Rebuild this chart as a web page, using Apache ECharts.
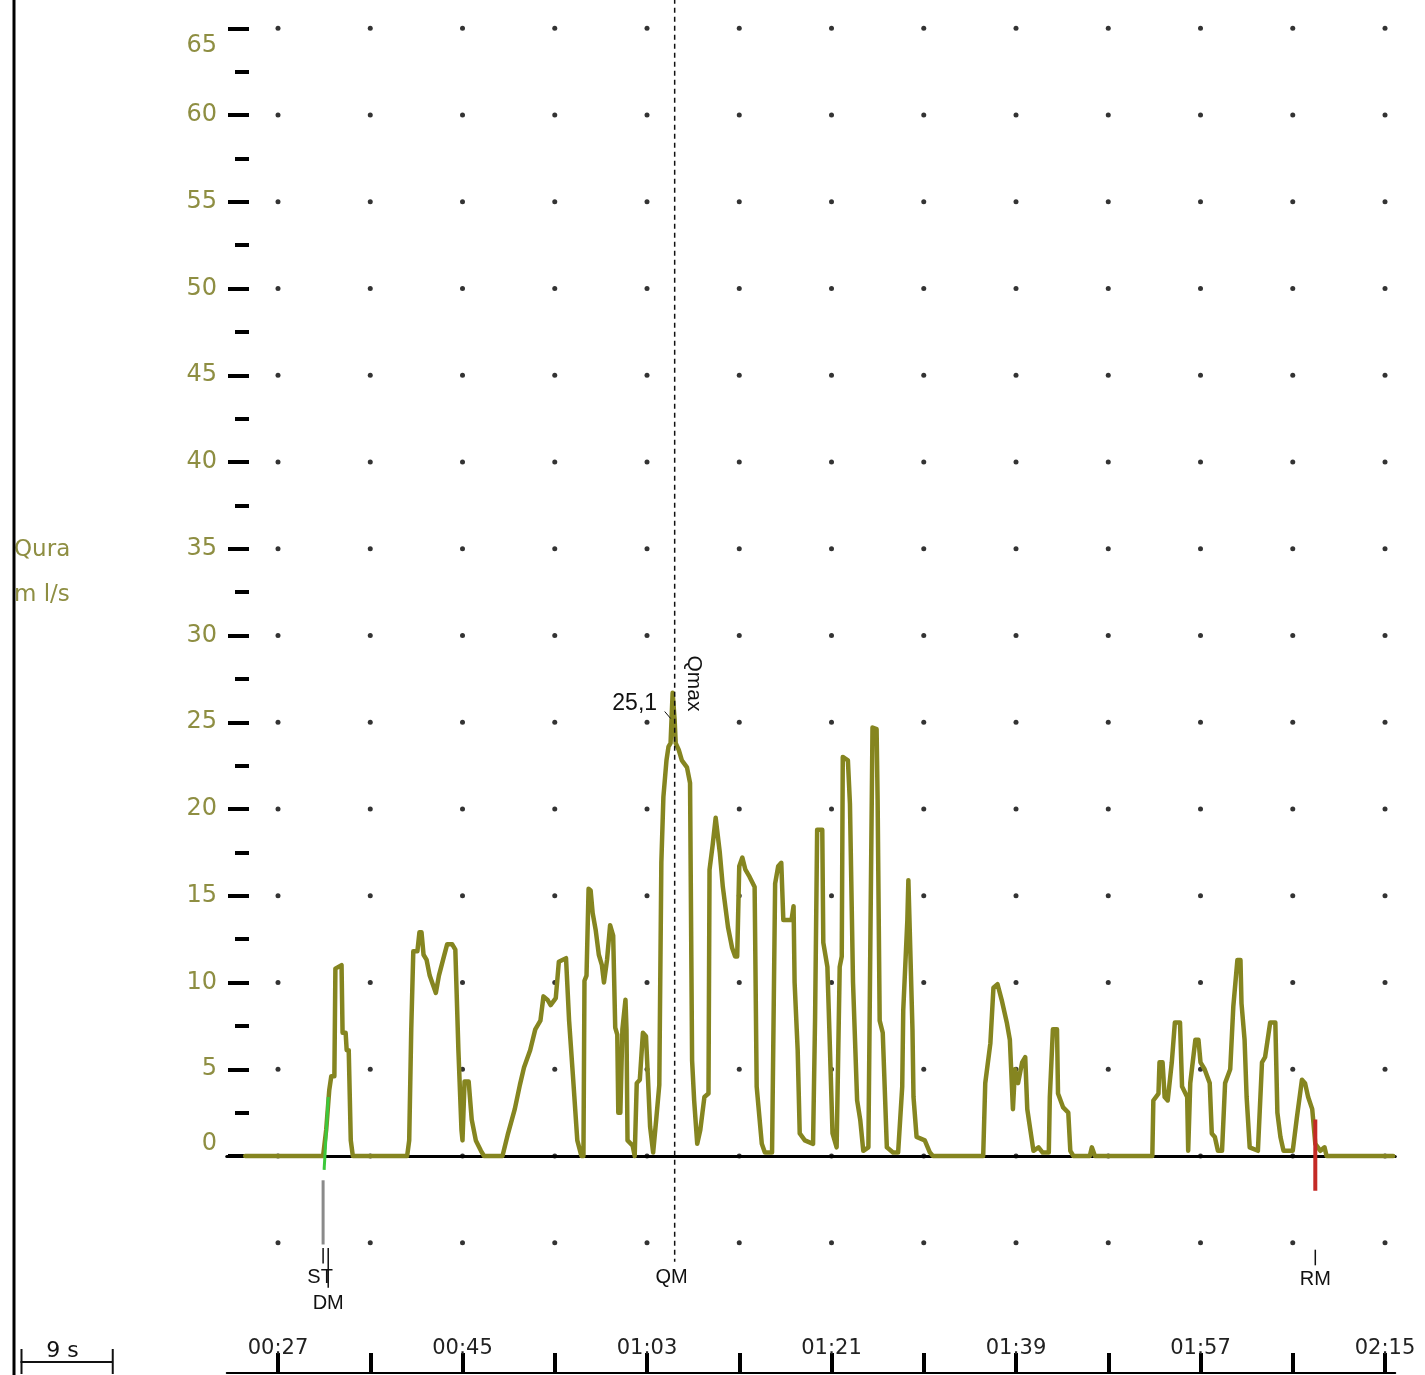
<!DOCTYPE html>
<html>
<head>
<meta charset="utf-8">
<title>Qura</title>
<script src="https://cdn.jsdelivr.net/npm/echarts@6.0.0/dist/echarts.min.js"></script>
<style>
  html, body { margin: 0; padding: 0; background: #ffffff; }
  #chart { width: 1425px; height: 1375px; }
</style>
</head>
<body>
<div id="chart"></div>
<script>
// Flow curve: time (s) and flow rate (ml/s)
const timeSec = [
  23.8, 31.4, 31.7, 32.0, 32.2, 32.5, 32.6, 33.2, 33.3, 33.6, 33.7, 33.9, 34.1, 34.3,
  39.6, 39.8, 40.0, 40.2, 40.6, 40.8, 41.0, 41.2, 41.5, 41.8, 42.1, 42.4, 42.7, 43.1,
  43.5, 44.0, 44.3, 44.6, 44.9, 45.0, 45.2, 45.6, 45.9, 46.3, 46.8, 47.1,
  48.9, 49.4, 50.1, 50.6, 51.0, 51.6, 52.1, 52.6, 52.9, 53.3, 53.6, 54.1, 54.4, 55.1,
  55.4, 55.8, 56.2, 56.6,
  56.8, 56.9, 57.1, 57.3, 57.5, 57.7, 58.0, 58.3, 58.6, 58.8, 59.1, 59.4, 59.7, 59.9,
  60.1, 60.2, 60.4, 60.6, 60.9, 61.0, 61.1, 61.6, 61.8, 62.0, 62.3, 62.6, 62.9, 63.1,
  63.3, 63.6, 63.9, 64.2, 64.4, 64.6, 64.9, 65.1, 65.3, 65.5, 65.7, 65.8, 66.1, 66.4,
  66.9, 67.2, 67.4, 67.6, 67.9, 68.2, 68.6, 69.0, 69.1, 69.4, 69.7, 70.1, 70.4, 70.9,
  71.3, 71.6, 71.8, 72.0, 72.3, 72.6, 73.0, 73.5, 73.7, 74.2, 74.5, 75.2, 75.5, 75.8,
  76.1, 76.3, 77.1, 77.3, 77.4, 77.7, 77.9, 78.4, 79.2, 79.4, 79.6, 80.1, 80.2, 80.6,
  80.8, 81.1, 81.5, 81.8, 82.0, 82.1, 82.6, 82.8, 83.1, 83.5, 83.8, 84.1, 84.6, 84.8,
  85.0, 85.4, 85.5, 85.7, 86.0, 86.4, 87.0, 87.5, 87.9, 88.0, 88.4, 88.5, 88.9, 89.0,
  89.3, 90.1, 90.6, 90.9,
  95.8, 96.0, 96.5, 96.8, 97.2, 97.6, 98.1, 98.4, 98.7, 98.9, 99.2, 99.6, 99.9, 100.1,
  100.4, 100.7, 101.2, 101.6, 102.2, 102.3, 102.6, 103.0, 103.1, 103.6, 104.1, 104.3,
  104.6, 106.2, 106.4, 106.7,
  112.3, 112.4, 112.9, 113.0, 113.3, 113.5, 113.8, 114.2, 114.5, 115.0, 115.2, 115.7,
  115.8, 116.0, 116.5, 116.8, 117.0, 117.4, 117.9, 118.1, 118.4, 118.7, 119.1, 119.4,
  119.9, 120.2, 120.6, 120.9, 121.0, 121.3, 121.5, 121.8, 122.6, 123.0, 123.3, 123.8,
  124.3, 124.5, 124.8, 125.1, 126.0, 126.4, 126.9, 127.2, 127.5, 127.9, 128.2, 128.7,
  129.1, 129.3, 135.8
];
const flowMlS = [
  0, 0, 1.5, 3.8, 4.6, 4.6, 10.8, 11.0, 7.1, 7.1, 6.1, 6.1, 0.9, 0,
  0, 0.9, 7.3, 11.8, 11.8, 12.9, 12.9, 11.6, 11.3, 10.4, 9.9, 9.4, 10.4, 11.3,
  12.2, 12.2, 11.9, 6.1, 1.5, 0.9, 4.3, 4.3, 2.1, 0.9, 0.3, 0,
  0, 1.2, 2.7, 4.1, 5.1, 6.1, 7.3, 7.8, 9.2, 9.0, 8.7, 9.1, 11.2, 11.4,
  7.8, 4.4, 0.9, 0,
  0, 10.1, 10.4, 15.4, 15.3, 14.0, 13.0, 11.6, 11.0, 10.0, 11.3, 13.3, 12.7, 7.4,
  7.0, 2.5, 2.5, 7.3, 9.0, 7.3, 0.9, 0.6, 0, 4.2, 4.4, 7.1, 6.9, 4.4,
  1.7, 0.2, 2.1, 4.1, 16.9, 20.7, 22.8, 23.6, 23.8, 26.7, 25.1, 23.8, 23.4, 22.8,
  22.4, 21.5, 5.5, 3.2, 0.7, 1.5, 3.4, 3.6, 16.5, 17.9, 19.5, 17.5, 15.5, 13.2,
  12.0, 11.5, 11.5, 16.7, 17.2, 16.5, 16.1, 15.5, 4.0, 0.7, 0.2, 0.2, 15.7, 16.7,
  16.9, 13.6, 13.6, 14.4, 10.0, 6.1, 1.3, 0.9, 0.7, 8.0, 18.8, 18.8, 12.3, 10.9,
  7.1, 1.3, 0.5, 10.9, 11.5, 23.0, 22.8, 20.3, 10.0, 3.2, 2.1, 0.3, 0.5, 12.9,
  24.7, 24.6, 20.5, 7.8, 7.1, 0.5, 0.2, 0.2, 4.0, 8.4, 13.6, 15.9, 7.3, 3.4,
  1.1, 0.9, 0.2, 0,
  0, 4.2, 6.5, 9.7, 9.9, 9.0, 7.7, 6.7, 2.7, 5.0, 4.2, 5.4, 5.7, 2.7,
  1.5, 0.3, 0.5, 0.2, 0.2, 3.4, 7.3, 7.3, 3.6, 2.8, 2.5, 0.3,
  0, 0, 0.5, 0,
  0, 3.2, 3.6, 5.4, 5.4, 3.4, 3.2, 5.4, 7.7, 7.7, 4.0, 3.4,
  0.3, 4.2, 6.7, 6.7, 5.4, 5.0, 4.2, 1.3, 1.1, 0.3, 0.3, 4.2,
  5.0, 8.6, 11.3, 11.3, 8.8, 6.7, 3.4, 0.5, 0.3, 5.4, 5.7, 7.7,
  7.7, 2.5, 1.1, 0.3, 0.3, 2.2, 4.4, 4.2, 3.4, 2.7, 0.7, 0.3,
  0.5, 0, 0
];

// Axis ticks
const timeTicks = [27, 36, 45, 54, 63, 72, 81, 90, 99, 108, 117, 126, 135];
const timeLabelEvery = 18;
const flowTicks = [65, 60, 55, 50, 45, 40, 35, 30, 25, 20, 15, 10, 5, 0, -5];

// Event markers (time in s)
const markerNames = ['ST', 'DM', 'QM', 'RM'];
const markerTimes = [31.4, 31.9, 65.7, 128.2];
const qmaxValue = 25.1;

// Flow start / end cursors
const startCursorTime = [31.5, 31.9];
const startCursorFlow = [-0.8, 3.4];
const endCursorTime = [128.2, 128.2];
const endCursorFlow = [2.1, -2.0];

// ---- layout ----
const PX_PER_S = 10.25;
const PX_PER_UNIT = 17.35;
const TICK0_X = 278;          // pixel of first time tick
const ZERO_Y = 1156;          // pixel of flow = 0
const T_MIN = 22, T_MAX = 136;
const T_TICK_MIN = 27, T_TICK_MAX = 135;
const V_MIN = -12.5, V_MAX = 65;

const OLIVE = '#858520';
const LABEL_OLIVE = '#8e8e42';

const gridTop = ZERO_Y - V_MAX * PX_PER_UNIT;
const mainGrid = {
  left: TICK0_X - (T_TICK_MIN - T_MIN) * PX_PER_S,
  top: gridTop,
  width: (T_MAX - T_MIN) * PX_PER_S,
  height: (V_MAX - V_MIN) * PX_PER_UNIT,
  outerBoundsMode: 'none'
};
const axisGrid = {
  left: TICK0_X,
  top: gridTop,
  width: (T_TICK_MAX - T_TICK_MIN) * PX_PER_S,
  height: V_MAX * PX_PER_UNIT,
  outerBoundsMode: 'none'
};
const bottomAxisY = mainGrid.top + mainGrid.height;

function mmss(sec) {
  const m = Math.floor(sec / 60), s = Math.round(sec % 60);
  return String(m).padStart(2, '0') + ':' + String(s).padStart(2, '0');
}

const curve = timeSec.map((t, i) => [t, flowMlS[i]]);
const dots = [];
timeTicks.forEach(t => flowTicks.forEach(v => dots.push([t, v])));

const markerFont = '20px "Liberation Sans", Arial, sans-serif';

function renderMarker(params, api) {
  const name = markerNames[params.dataIndex];
  const t = api.value(0);
  const p = v => api.coord([t, v]);
  const line = (v1, v2, style) => ({
    type: 'line',
    shape: { x1: p(v1)[0], y1: p(v1)[1], x2: p(v2)[0], y2: p(v2)[1] },
    style: style
  });
  const text = (v, str, dx) => ({
    type: 'text',
    x: p(v)[0] + (dx || 0),
    y: p(v)[1],
    style: { text: str, font: markerFont, fill: '#111', align: 'center', verticalAlign: 'middle' }
  });
  const black = { stroke: '#111', lineWidth: 1.5 };
  const children = [];
  if (name === 'ST') {
    children.push(line(-1.4, -5.1, { stroke: '#8a8a8a', lineWidth: 3 }));
    children.push(line(-5.3, -6.2, black));
    children.push(text(-7.0, 'ST', -3));
  } else if (name === 'DM') {
    children.push(line(-5.3, -7.6, black));
    children.push(text(-8.5, 'DM'));
  } else if (name === 'QM') {
    children.push(line(V_MAX + 1.7, -6.1, { stroke: '#111', lineWidth: 1.5, lineDash: [5, 4] }));
    children.push(text(-7.0, 'QM', -3));
    const q = api.coord([t, qmaxValue]);
    children.push({
      type: 'text', x: q[0] - 40, y: q[1] - 17,
      style: { text: qmaxValue.toFixed(1).replace('.', ','), font: '23px "Liberation Sans", Arial, sans-serif', fill: '#111', align: 'center', verticalAlign: 'middle' }
    });
    children.push({
      type: 'line',
      shape: { x1: q[0] - 10, y1: q[1] - 9, x2: q[0] - 4, y2: q[1] - 2 },
      style: { stroke: '#111', lineWidth: 1 }
    });
    children.push({
      type: 'text', x: q[0] + 19, y: q[1] - 37, rotation: -Math.PI / 2,
      style: { text: 'Qmax', font: '21px "Liberation Sans", Arial, sans-serif', fill: '#111', align: 'center', verticalAlign: 'middle' }
    });
  } else if (name === 'RM') {
    children.push(line(-5.4, -6.3, black));
    children.push(text(-7.1, 'RM'));
  }
  return { type: 'group', children: children };
}

const chart = echarts.init(document.getElementById('chart'), null, { renderer: 'canvas' });

chart.setOption({
  animation: false,
  backgroundColor: '#ffffff',
  grid: [mainGrid, axisGrid],
  xAxis: [
    { // zero line of the flow axis
      type: 'value', gridIndex: 0, min: T_MIN, max: T_MAX, position: 'bottom',
      axisLine: { show: true, onZero: true, lineStyle: { color: '#000', width: 3 } },
      axisTick: { show: false }, axisLabel: { show: false }, splitLine: { show: false }
    },
    { // bottom time scale line
      type: 'value', gridIndex: 0, min: T_MIN, max: T_MAX, position: 'bottom',
      axisLine: { show: true, onZero: false, lineStyle: { color: '#000', width: 2 } },
      axisTick: { show: false }, axisLabel: { show: false }, splitLine: { show: false }
    },
    { // time ticks and labels
      type: 'value', gridIndex: 1, min: T_TICK_MIN, max: T_TICK_MAX, interval: 9,
      position: 'bottom', offset: bottomAxisY - ZERO_Y,
      axisLine: { show: false, onZero: false },
      axisTick: { show: true, inside: true, length: 20, lineStyle: { color: '#000', width: 4 } },
      axisLabel: {
        show: true, inside: true, margin: 14, color: '#222',
        fontFamily: '"DejaVu Sans", sans-serif', fontSize: 21,
        showMinLabel: true, showMaxLabel: true,
        formatter: v => ((v - T_TICK_MIN) % timeLabelEvery === 0 ? mmss(v) : '')
      },
      splitLine: { show: false }
    }
  ],
  yAxis: [
    {
      type: 'value', gridIndex: 0, min: V_MIN, max: V_MAX, show: false,
      splitLine: { show: false }
    },
    {
      type: 'value', gridIndex: 1, min: 0, max: V_MAX, interval: 5,
      position: 'left', offset: TICK0_X - 249,
      axisLine: { show: false },
      axisTick: { show: true, length: 21, lineStyle: { color: '#000', width: 4 } },
      minorTick: { show: true, splitNumber: 2, length: 14, lineStyle: { color: '#000', width: 4 } },
      axisLabel: {
        show: true, margin: 32, color: LABEL_OLIVE,
        fontFamily: '"DejaVu Sans", sans-serif', fontSize: 24,
        verticalAlignMinLabel: 'bottom', verticalAlignMaxLabel: 'top',
        formatter: v => (v === V_MAX ? '{max|' + v + '}' : String(v)),
        rich: { max: { padding: [6, 0, 0, 0], color: LABEL_OLIVE, fontFamily: '"DejaVu Sans", sans-serif', fontSize: 24 } }
      },
      splitLine: { show: false }, minorSplitLine: { show: false }
    }
  ],
  series: [
    {
      type: 'scatter', xAxisIndex: 0, yAxisIndex: 0, data: dots,
      symbol: 'circle', symbolSize: 5, silent: true, z: 1,
      itemStyle: { color: '#000' }
    },
    {
      type: 'line', xAxisIndex: 0, yAxisIndex: 0, data: curve,
      showSymbol: false, symbol: 'none', z: 4, silent: true,
      lineStyle: { color: OLIVE, width: 4.5, join: 'round', cap: 'round' }
    },
    {
      type: 'line', xAxisIndex: 0, yAxisIndex: 0,
      data: startCursorTime.map((t, i) => [t, startCursorFlow[i]]),
      showSymbol: false, symbol: 'none', z: 5, silent: true,
      lineStyle: { color: '#3cc83c', width: 3 }
    },
    {
      type: 'line', xAxisIndex: 0, yAxisIndex: 0,
      data: endCursorTime.map((t, i) => [t, endCursorFlow[i]]),
      showSymbol: false, symbol: 'none', z: 5, silent: true,
      lineStyle: { color: '#c42a26', width: 4 }
    },
    {
      type: 'custom', xAxisIndex: 0, yAxisIndex: 0, clip: false, z: 6, silent: true,
      data: markerTimes.map(t => [t, 0]),
      renderItem: renderMarker
    }
  ],
  graphic: [
    { // left frame line
      type: 'line', shape: { x1: 14, y1: 0, x2: 14, y2: 1375 },
      style: { stroke: '#000', lineWidth: 3 }, z: 10
    },
    {
      type: 'text', left: 14, top: 539,
      style: { text: 'Qura', font: '23px "DejaVu Sans", sans-serif', fill: LABEL_OLIVE }
    },
    {
      type: 'text', left: 14, top: 584,
      style: { text: 'm l/s', font: '23px "DejaVu Sans", sans-serif', fill: LABEL_OLIVE }
    },
    { // 9 s scale bar
      type: 'group', left: 18, top: 1340,
      children: [
        { type: 'line', shape: { x1: 0, y1: 23, x2: 9 * PX_PER_S, y2: 23 }, style: { stroke: '#111', lineWidth: 2 } },
        { type: 'line', shape: { x1: 1, y1: 10, x2: 1, y2: 35 }, style: { stroke: '#111', lineWidth: 2 } },
        { type: 'line', shape: { x1: 9 * PX_PER_S, y1: 10, x2: 9 * PX_PER_S, y2: 35 }, style: { stroke: '#111', lineWidth: 2 } },
        { type: 'text', x: 42, y: 12, style: { text: '9 s', font: '22px "DejaVu Sans", sans-serif', fill: '#111', align: 'center', verticalAlign: 'middle' } }
      ]
    }
  ]
});
</script>
</body>
</html>
